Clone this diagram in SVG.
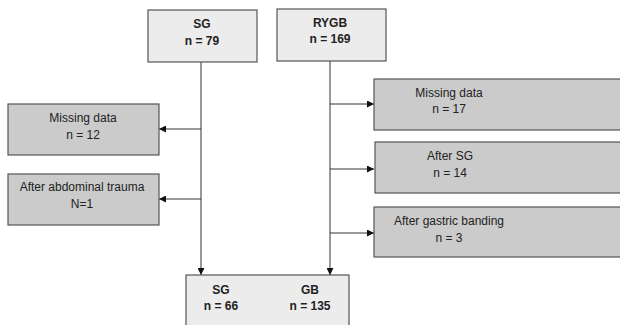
<svg xmlns="http://www.w3.org/2000/svg" width="620" height="325" viewBox="0 0 620 325">
<style>
.light{fill:#ececec;stroke:#555;stroke-width:1.2}
.dark{fill:#cbcbcb;stroke:#555;stroke-width:1.2}
text{font-family:"Liberation Sans",Arial,sans-serif;font-size:12px;fill:#222;text-anchor:middle}
.b{font-weight:bold}
.c{stroke:#333;stroke-width:1;fill:none;marker-end:url(#ah)}
</style>
<defs>
<marker id="ah" viewBox="0 0 10 10" refX="10" refY="5" markerWidth="7" markerHeight="7" markerUnits="userSpaceOnUse" orient="auto">
<path d="M0,0 L10,5 L0,10 z" fill="#111"/>
</marker>
</defs>
<rect width="620" height="325" fill="#fff"/>
<g id="connectors">
<path class="c" d="M201,62 V275"/>
<path class="c" d="M330,61 V275"/>
<path class="c" d="M201,129 H159"/>
<path class="c" d="M201,199 H159"/>
<path class="c" d="M330,104 H374"/>
<path class="c" d="M330,169 H374"/>
<path class="c" d="M330,233 H374"/>
</g>
<g id="sg">
<rect class="light" x="148" y="10" width="109" height="52"/>
<text class="b" x="202" y="28">SG</text>
<text class="b" x="202" y="45">n = 79</text>
</g>
<g id="rygb">
<rect class="light" x="277" y="9" width="109" height="52"/>
<text class="b" x="330" y="27">RYGB</text>
<text class="b" x="330" y="43">n = 169</text>
</g>
<g id="missing-left">
<rect class="dark" x="8" y="104" width="151" height="51"/>
<text x="83" y="122">Missing data</text>
<text x="83" y="139">n = 12</text>
</g>
<g id="trauma">
<rect class="dark" x="8" y="174" width="151" height="51"/>
<text x="82" y="191">After abdominal trauma</text>
<text x="82" y="208">N=1</text>
</g>
<g id="missing-right">
<rect class="dark" x="374" y="79" width="260" height="51"/>
<text x="449" y="97">Missing data</text>
<text x="449" y="113">n = 17</text>
</g>
<g id="after-sg">
<rect class="dark" x="375" y="142" width="260" height="51"/>
<text x="450" y="160">After SG</text>
<text x="450" y="177">n = 14</text>
</g>
<g id="banding">
<rect class="dark" x="374" y="207" width="260" height="50"/>
<text x="449" y="225">After gastric banding</text>
<text x="449" y="242">n = 3</text>
</g>
<g id="result">
<rect class="light" x="186" y="275" width="163" height="60"/>
<text class="b" x="221" y="294">SG</text>
<text class="b" x="221" y="310">n = 66</text>
<text class="b" x="310" y="294">GB</text>
<text class="b" x="310" y="310">n = 135</text>
</g>
</svg>
